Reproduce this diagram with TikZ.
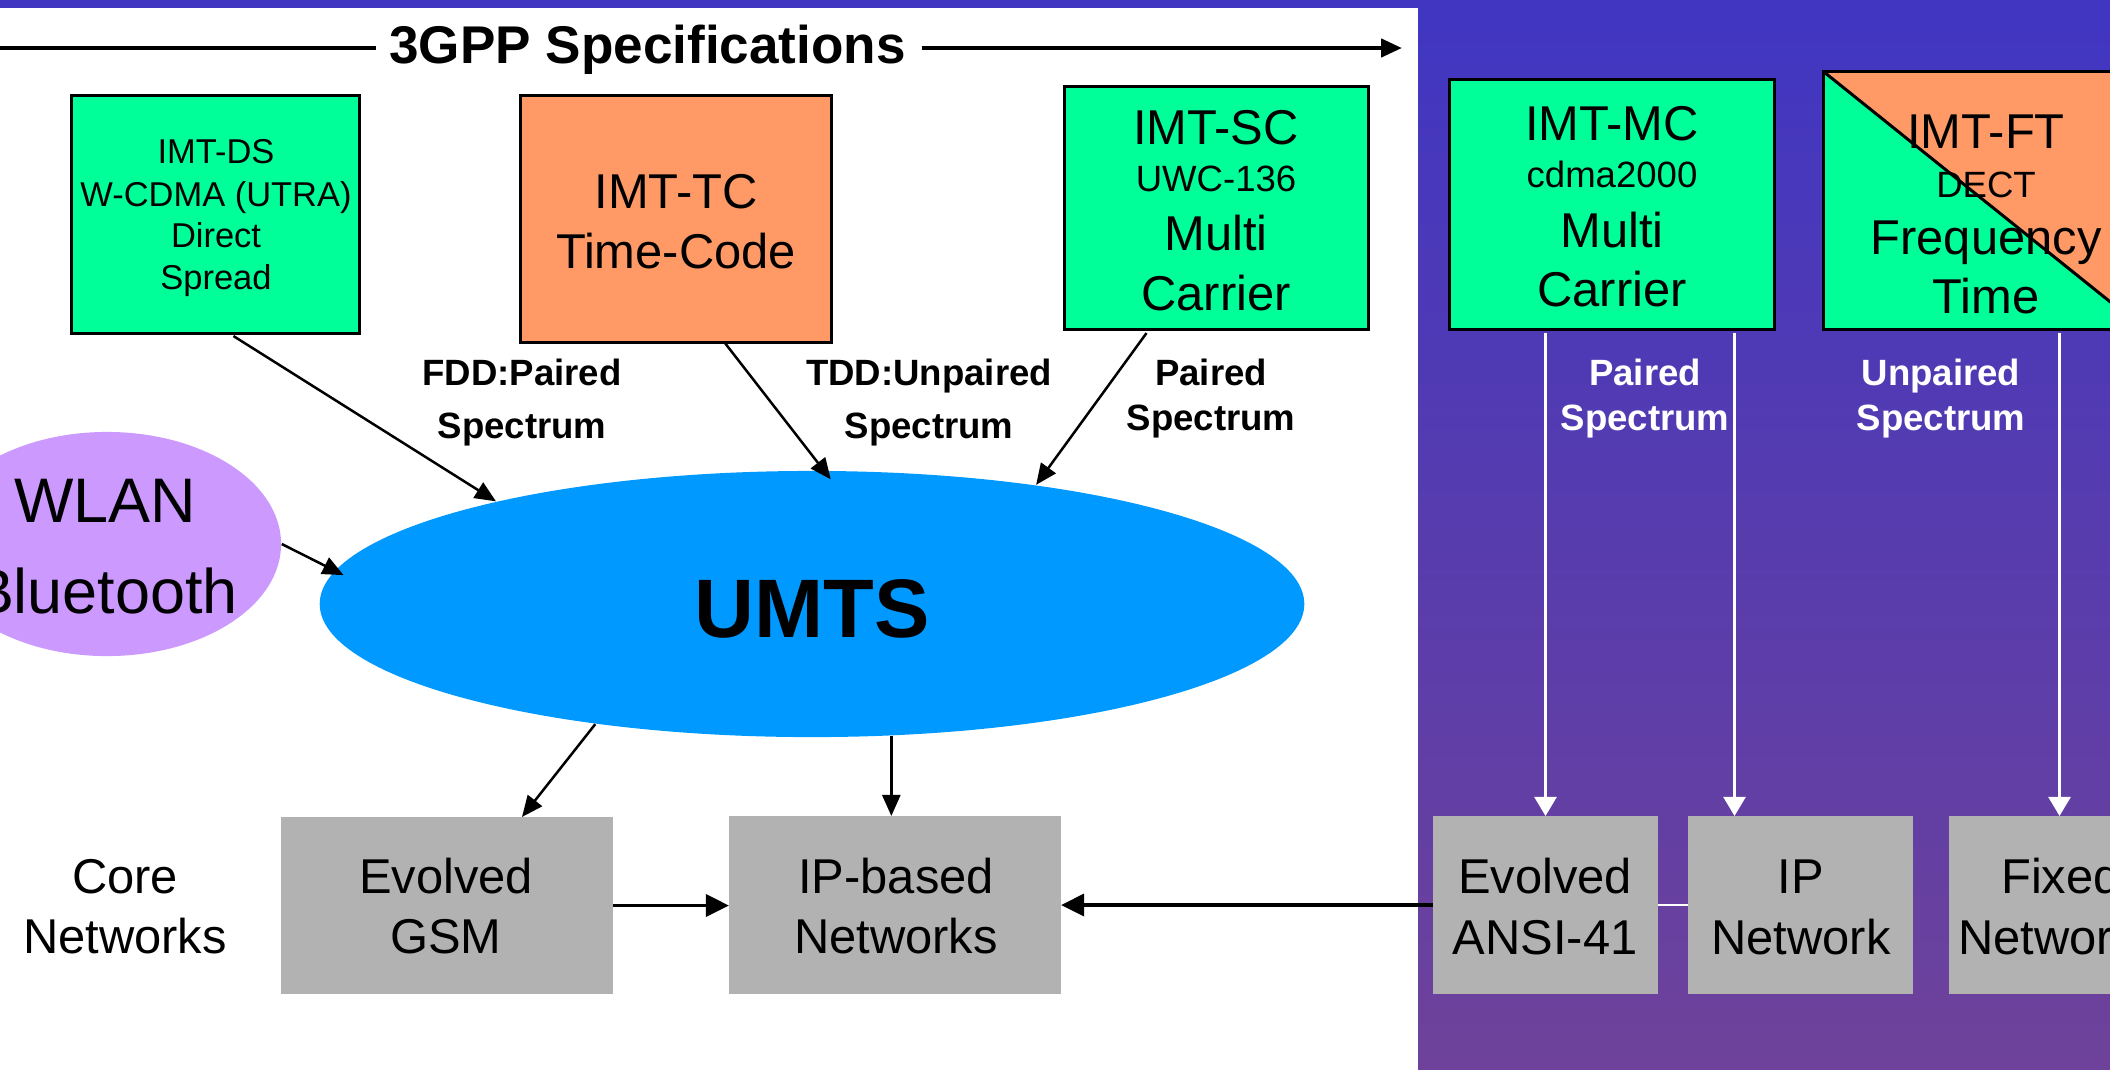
\documentclass[tikz,border=0pt]{standalone}
\usepackage{fontspec}
\setmainfont{Liberation Sans}
\usetikzlibrary{arrows.meta,shapes.geometric,calc}

\definecolor{specgreen}{RGB}{0,255,153}
\definecolor{specorange}{RGB}{255,153,102}
\definecolor{umtsblue}{RGB}{0,153,255}
\definecolor{wlanlilac}{RGB}{204,153,255}
\definecolor{coregrey}{RGB}{178,178,178}
\definecolor{paneltop}{RGB}{64,54,194}
\definecolor{panelbottom}{RGB}{110,66,154}

\begin{document}
\begin{tikzpicture}[x=0.01cm,y=-0.01cm,
  lbl/.style={anchor=base,inner sep=0pt,outer sep=0pt},
  maintxt/.style={lbl,font=\fontsize{13.9}{16}\selectfont},
  subtxt/.style={lbl,font=\fontsize{10.4}{12}\selectfont},
  smalltxt/.style={lbl,font=\fontsize{9.8}{12}\selectfont},
  spectxt/.style={lbl,font=\bfseries\fontsize{10.4}{12}\selectfont},
  techbox/.style={draw=black,line width=0.03cm,inner sep=0pt,outer sep=0pt},
  corebox/.style={fill=coregrey,inner sep=0pt,outer sep=0pt},
  link/.style={line width=0.025cm,-{Triangle[length=0.21cm,width=0.18cm]}},
  thicklink/.style={line width=0.035cm,-{Triangle[length=0.23cm,width=0.22cm]}},
  wlink/.style={draw=white,line width=0.025cm,-{Triangle[length=0.19cm,width=0.22cm,fill=white]}},
]
\useasboundingbox (0,0) rectangle (2110,1069);
\clip (0,0) rectangle (2110,1069);

% backgrounds
\fill[white] (0,0) rectangle (1418,1069);
\fill[paneltop] (0,0) rectangle (1418,8);
\shade[top color=paneltop,bottom color=panelbottom] (1418,0) rectangle (2110,1069);

% heading with its arrow
\node[lbl,font=\bfseries\fontsize{15.1}{18}\selectfont] (title) at (647.5,63) {3GPP Specifications};
\coordinate (tl) at (0,48);
\coordinate (tr) at (1402,48);
\draw[line width=0.045cm] (tl) -- ($(tl -| title.west)+(-13,0)$);
\draw[line width=0.045cm,-{Triangle[length=0.21cm,width=0.18cm]}] ($(tr -| title.east)+(16,0)$) -- (tr);

% radio technologies
\node[techbox,fill=specgreen,minimum width=2.87cm,minimum height=2.37cm] (ds) at (215.5,214.5) {};
\node[smalltxt] (ds1) at (216,163) {IMT-DS};
\node[smalltxt] (ds2) at (216,206) {W-CDMA (UTRA)};
\node[smalltxt] (ds3) at (216,247) {Direct};
\node[smalltxt] (ds4) at (216,289) {Spread};

\node[techbox,fill=specorange,minimum width=3.10cm,minimum height=2.46cm] (tc) at (676,219) {};
\node[maintxt] (tc1) at (676,208) {IMT-TC};
\node[maintxt] (tc2) at (676,268) {Time-Code};

\node[techbox,fill=specgreen,minimum width=3.03cm,minimum height=2.42cm] (sc) at (1216.5,208) {};
\node[maintxt] (sc1) at (1216,144) {IMT-SC};
\node[subtxt]  (sc2) at (1216,191) {UWC-136};
\node[maintxt] (sc3) at (1216,250) {Multi};
\node[maintxt] (sc4) at (1216,310) {Carrier};

\node[techbox,fill=specgreen,minimum width=3.24cm,minimum height=2.49cm] (mc) at (1612,204.5) {};
\node[maintxt] (mc1) at (1612,140) {IMT-MC};
\node[subtxt]  (mc2) at (1612,187) {cdma2000};
\node[maintxt] (mc3) at (1612,247) {Multi};
\node[maintxt] (mc4) at (1612,306) {Carrier};

\path node[inner sep=0pt,outer sep=0pt,minimum width=3.20cm,minimum height=2.57cm] (ft) at (1984,200.5) {};
\fill[specgreen] (ft.north west) -- (ft.south west) -- (ft.south east) -- cycle;
\fill[specorange] (ft.north west) -- (ft.north east) -- (ft.south east) -- cycle;
\draw[line width=0.03cm] (ft.north west) rectangle (ft.south east);
\draw[line width=0.03cm] (ft.north west) -- (ft.south east);
\node[maintxt] (ft1) at (1986,148) {IMT-FT};
\node[subtxt]  (ft2) at (1986,197) {DECT};
\node[maintxt] (ft3) at (1986,254) {Frequency};
\node[maintxt] (ft4) at (1986,313) {Time};

% spectrum labels
\node[spectxt] (fdd1) at (522,385) {FDD:Paired};
\node[spectxt] (fdd2) at (522,438) {Spectrum};
\node[spectxt] (tdd1) at (929,385) {TDD:Unpaired};
\node[spectxt] (tdd2) at (929,438) {Spectrum};
\node[spectxt] (scp1) at (1211,385) {Paired};
\node[spectxt] (scp2) at (1211,430) {Spectrum};
\node[spectxt,text=white] (mcp1) at (1645,385) {Paired};
\node[spectxt,text=white] (mcp2) at (1645,430) {Spectrum};
\node[spectxt,text=white] (ftp1) at (1941,385) {Unpaired};
\node[spectxt,text=white] (ftp2) at (1941,430) {Spectrum};

% access networks
\node[ellipse,fill=wlanlilac,inner sep=0pt,minimum width=3.48cm,minimum height=2.24cm] (wlan) at (107,544) {};
\node[lbl,font=\fontsize{17.9}{20}\selectfont] (wlan1) at (105,522) {WLAN};
\node[lbl,font=\fontsize{17.9}{20}\selectfont] (wlan2) at (105,613) {Bluetooth};

\node[ellipse,fill=umtsblue,inner sep=0pt,minimum width=9.84cm,minimum height=2.66cm] (umts) at (812,604) {};
\node[lbl,font=\bfseries\fontsize{23.6}{26}\selectfont] (umts1) at (812,637) {UMTS};

% core networks
\node[maintxt] (core1) at (125,893) {Core};
\node[maintxt] (core2) at (125,953) {Networks};

\node[corebox,minimum width=3.32cm,minimum height=1.77cm] (gsm) at (447,905.5) {};
\node[maintxt] (gsm1) at (446,893) {Evolved};
\node[maintxt] (gsm2) at (446,953) {GSM};

\node[corebox,minimum width=3.32cm,minimum height=1.78cm] (ipb) at (895,905) {};
\node[maintxt] (ipb1) at (896,893) {IP-based};
\node[maintxt] (ipb2) at (896,953) {Networks};

\node[corebox,minimum width=2.25cm,minimum height=1.78cm] (ansi) at (1545.5,905) {};
\node[maintxt] (ansi1) at (1545,893) {Evolved};
\node[maintxt] (ansi2) at (1545,954) {ANSI-41};

\node[corebox,minimum width=2.25cm,minimum height=1.78cm] (ipn) at (1800.5,905) {};
\node[maintxt] (ipn1) at (1801,893) {IP};
\node[maintxt] (ipn2) at (1801,954) {Network};

\node[corebox,minimum width=2.25cm,minimum height=1.78cm] (fix) at (2061.5,905) {};
\node[maintxt] (fix1) at (2061,893) {Fixed};
\node[maintxt] (fix2) at (2060,954) {Networks};

% connectors
\draw[link] ($(ds.south)+(18,3)$) -- (umts.162.7);
\draw[link] ($(tc.south)+(49,1)$) -- ($(umts.82)+(0,9)$);
\draw[link] ($(sc.south)+(-70,4)$) -- (umts.28);
\draw[link,shorten >=-0.1cm] (wlan.east) -- (umts.176.6);
\draw[link] (umts.209.7) -- ($(gsm.north)+(75,0)$);
\draw[link] (umts.-59.6) -- (umts.-59.6 |- ipb.north);
\draw[thicklink] (gsm.east) -- (gsm.east -| ipb.west);
\draw[thicklink] (ansi.west) -- (ansi.west -| ipb.east);
\draw[white,line width=0.02cm] (ansi.east) -- (ansi.east -| ipn.west);

\draw[wlink] ($(ansi.north |- mc.south)+(0,4)$) -- (ansi.north);
\draw[wlink] ($(ipn.north |- mc.south)+(-66,4)$) -- ($(ipn.north)+(-66,0)$);
\draw[wlink] ($(fix.north |- ft.south)+(-2,4)$) -- ($(fix.north)+(-2,0)$);
\end{tikzpicture}
\end{document}
